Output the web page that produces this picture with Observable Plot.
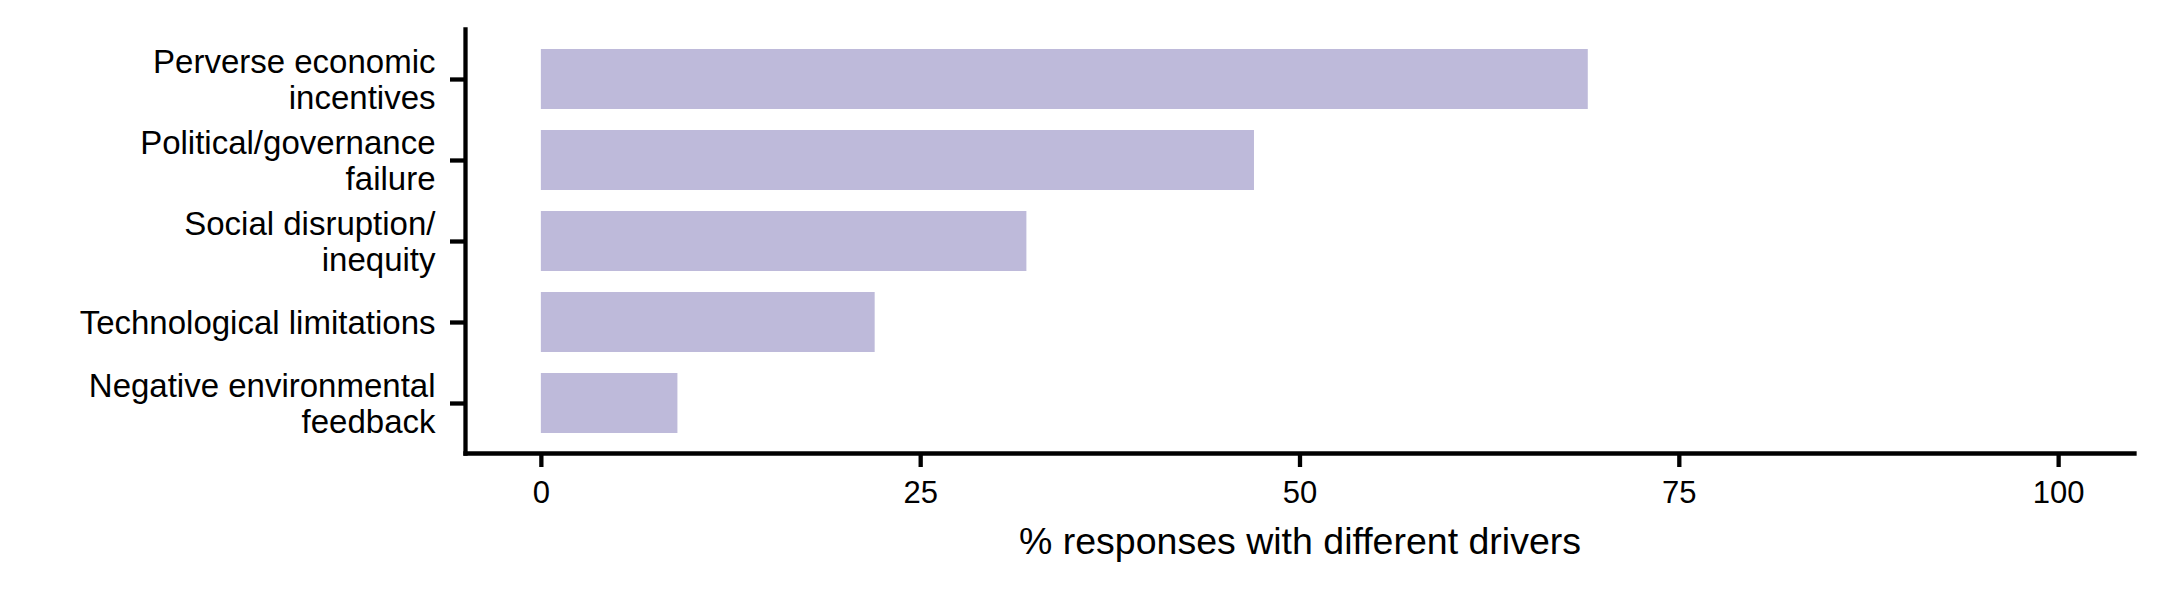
<!DOCTYPE html>
<html>
<head>
<meta charset="utf-8">
<script src="https://cdn.jsdelivr.net/npm/d3@7"></script>
<script src="https://cdn.jsdelivr.net/npm/@observablehq/plot@0.6"></script>
<style>
  html, body { margin: 0; padding: 0; background: #ffffff; }
  #chart svg { display: block; }
</style>
</head>
<body>
<div id="chart"></div>
<script>
// ---- data ----
const drivers = [
  "Perverse economic incentives",
  "Political/governance failure",
  "Social disruption/ inequity",
  "Technological limitations",
  "Negative environmental feedback"
];
const driverLabels = [
  "Perverse economic\nincentives",
  "Political/governance\nfailure",
  "Social disruption/\ninequity",
  "Technological limitations",
  "Negative environmental\nfeedback"
];
const responsePct = [69, 47, 32, 22, 9];
const xTicks = [0, 25, 50, 75, 100];
const xTitle = "% responses with different drivers";

const rows = drivers.map((d, i) => ({driver: d, value: responsePct[i]}));
const labelOf = new Map(drivers.map((d, i) => [d, driverLabels[i]]));

const chart = Plot.plot({
  width: 2161,
  height: 590,
  marginLeft: 465,
  marginRight: 27,
  marginTop: 29,
  marginBottom: 137,
  style: {fontFamily: "'Liberation Sans', Arial, sans-serif", color: "#000000", background: "#ffffff"},
  x: {domain: [-5, 105]},
  y: {domain: drivers, paddingInner: 0.26, paddingOuter: 0.23},
  marks: [
    Plot.barX(rows, {x1: 0, x2: "value", y: "driver", fill: "#BEBADA"}),
    Plot.frame({anchor: "left", stroke: "#000", strokeWidth: 4.3, strokeLinecap: "square"}),
    Plot.frame({anchor: "bottom", stroke: "#000", strokeWidth: 4.3, strokeLinecap: "square"}),
    Plot.axisY({
      tickSize: 15, tickPadding: 15, strokeWidth: 4.3, fontSize: 33, lineHeight: 1.09,
      tickFormat: d => labelOf.get(d), label: null, fill: "#000"
    }),
    Plot.axisX({
      ticks: xTicks, tickSize: 14, tickPadding: 13, strokeWidth: 4.3, fontSize: 31,
      tickFormat: d => String(d), label: null, fill: "#000"
    }),
    Plot.text([xTitle], {frameAnchor: "bottom", dy: 74, lineAnchor: "top", fontSize: 37.5, fill: "#000"})
  ]
});
document.getElementById("chart").appendChild(chart);
</script>
</body>
</html>
